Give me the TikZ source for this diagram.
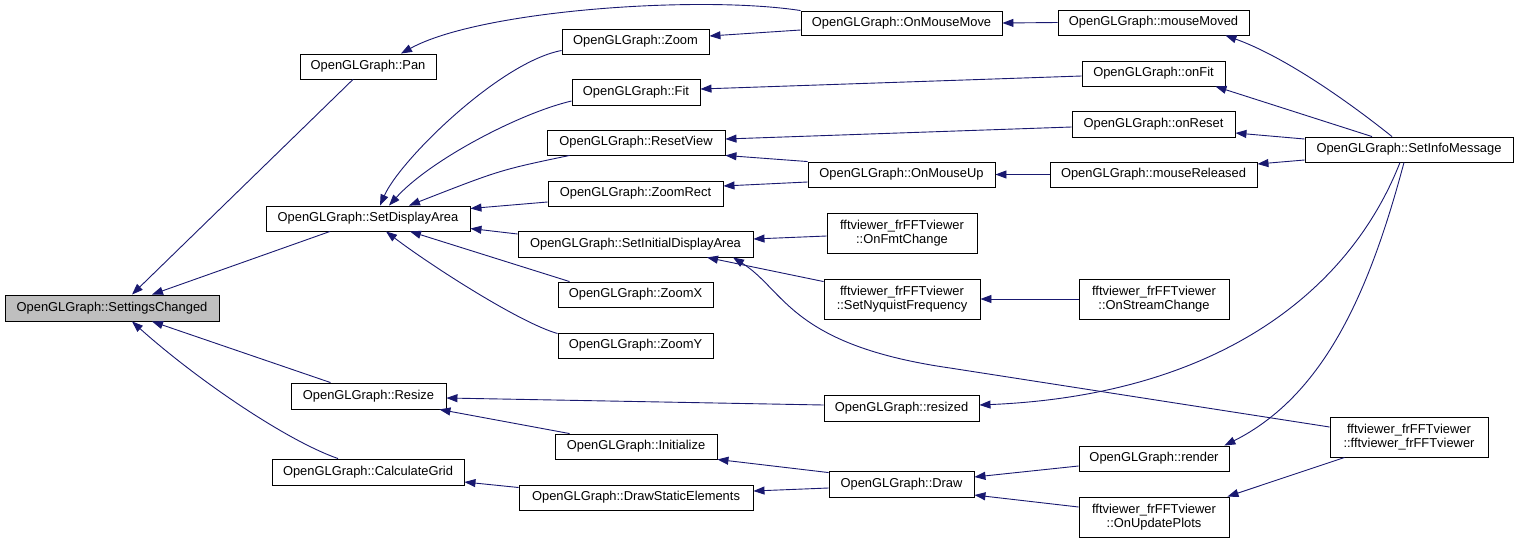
\documentclass[tikz,border=0pt]{standalone}
\usepackage{fontspec}
\setmainfont{Liberation Sans}
\usetikzlibrary{arrows.meta}
\definecolor{edgeblue}{HTML}{191970}
\definecolor{nodegray}{HTML}{BFBFBF}
\begin{document}
\begin{tikzpicture}[x=1pt,y=-1pt,
  fn/.style={draw=black,line width=0.9pt,fill=white,inner sep=0pt,minimum height=25pt,
    font=\fontsize{12.9}{13.5}\selectfont,text=black},
  fntwo/.style={fn,minimum height=40pt,align=center},
  edge/.style={draw=edgeblue,line width=0.9pt,-{Triangle[length=11pt,width=8pt]}},
]
\useasboundingbox[fill=white] (0,0) rectangle (1519,544);

% column 1
\node[fn,minimum width=214pt,minimum height=26pt,fill=nodegray] (sc) at (112,308) {OpenGLGraph::SettingsChanged};
% column 2
\node[fn,minimum width=136pt] (pan) at (368,66.5) {OpenGLGraph::Pan};
\node[fn,minimum width=204pt] (sda) at (368,218.5) {OpenGLGraph::SetDisplayArea};
\node[fn,minimum width=155pt,minimum height=26pt] (resize) at (368.5,396) {OpenGLGraph::Resize};
\node[fn,minimum width=192pt,minimum height=26pt] (cgrid) at (368,472) {OpenGLGraph::CalculateGrid};
% column 3
\node[fn,minimum width=147pt] (zoom) at (635.5,41.5) {OpenGLGraph::Zoom};
\node[fn,minimum width=128pt,minimum height=26pt] (fit) at (636,92) {OpenGLGraph::Fit};
\node[fn,minimum width=178pt] (rv) at (636,142.5) {OpenGLGraph::ResetView};
\node[fn,minimum width=175pt] (zr) at (635.5,193.5) {OpenGLGraph::ZoomRect};
\node[fn,minimum width=235pt,minimum height=26pt] (sida) at (635.5,244) {OpenGLGraph::SetInitialDisplayArea};
\node[fn,minimum width=155pt] (zx) at (635.5,294.5) {OpenGLGraph::ZoomX};
\node[fn,minimum width=155pt] (zy) at (635.5,345.5) {OpenGLGraph::ZoomY};
\node[fn,minimum width=162pt] (init) at (636,446.5) {OpenGLGraph::Initialize};
\node[fn,minimum width=234pt] (dse) at (636,497.5) {OpenGLGraph::DrawStaticElements};
% column 4
\node[fn,minimum width=201pt,minimum height=24pt] (omm) at (901.5,23) {OpenGLGraph::OnMouseMove};
\node[fn,minimum width=187pt] (omu) at (901.5,174.5) {OpenGLGraph::OnMouseUp};
\node[fntwo,minimum width=150pt] (ofc) at (902,233) {fftviewer\_frFFTviewer\\::OnFmtChange};
\node[fntwo,minimum width=156pt] (snf) at (902,299) {fftviewer\_frFFTviewer\\::SetNyquistFrequency};
\node[fn,minimum width=155pt,minimum height=26pt] (resized) at (901.5,408) {OpenGLGraph::resized};
\node[fn,minimum width=145pt,minimum height=26pt] (draw) at (901.5,484) {OpenGLGraph::Draw};
% column 5
\node[fn,minimum width=191pt] (mm) at (1153.5,22.5) {OpenGLGraph::mouseMoved};
\node[fn,minimum width=143pt] (onfit) at (1153.5,73.5) {OpenGLGraph::onFit};
\node[fn,minimum width=163pt,minimum height=26pt] (onreset) at (1153.5,124) {OpenGLGraph::onReset};
\node[fn,minimum width=207pt] (mr) at (1153.5,174.5) {OpenGLGraph::mouseReleased};
\node[fntwo,minimum width=150pt] (osc) at (1154,299) {fftviewer\_frFFTviewer\\::OnStreamChange};
\node[fn,minimum width=150pt] (render) at (1154,458.5) {OpenGLGraph::render};
\node[fntwo,minimum width=150pt] (oup) at (1154,517) {fftviewer\_frFFTviewer\\::OnUpdatePlots};
% column 6
\node[fn,minimum width=208pt] (sim) at (1409,149.5) {OpenGLGraph::SetInfoMessage};
\node[fntwo,minimum width=158pt] (ff) at (1409,437) {fftviewer\_frFFTviewer\\::fftviewer\_frFFTviewer};

% edges into SettingsChanged
\draw[edge] ([xshift=-15pt]pan.south) -- ([xshift=20pt]sc.north);
\draw[edge] ([xshift=-38pt]sda.south) -- ([xshift=40pt]sc.north);
\draw[edge] ([xshift=-38pt]resize.north) -- ([xshift=40pt]sc.south);
\draw[edge] ([xshift=-30pt]cgrid.north) .. controls (285,440) and (195,378) .. ([xshift=20pt]sc.south);
% into Pan
\draw[edge] (omm.north west) .. controls (700,-5) and (480,10) .. ([xshift=33pt]pan.north);
% into SetDisplayArea
\draw[edge] ([yshift=-9pt]zoom.west) .. controls (500,62) and (400,160) .. ([xshift=12pt]sda.north);
\draw[edge] ([yshift=-9pt]fit.west) .. controls (520,113) and (430,160) .. ([xshift=21pt]sda.north);
\draw[edge] ([xshift=23pt]rv.south west) .. controls (500,170) .. ([xshift=41pt]sda.north);
\draw[edge] ([yshift=-8.5pt]zr.west) -- ([yshift=10pt]sda.east);
\draw[edge] ([yshift=10pt]sida.west) -- ([yshift=-10pt]sda.east);
\draw[edge] ([xshift=12pt]zx.north west) -- ([xshift=42pt]sda.south);
\draw[edge] ([yshift=12pt]zy.west) .. controls (520,323) and (430,265) .. ([xshift=18pt]sda.south);
% into Resize, CalculateGrid
\draw[edge] ([yshift=3pt]resized.west) -- ([yshift=-2pt]resize.east);
\draw[edge] ([xshift=15pt]init.north west) -- ([xshift=-7pt]resize.south east);
\draw[edge] ([yshift=10pt]dse.west) -- ([yshift=-10pt]cgrid.east);
% into column 3
\draw[edge] ([yshift=-7pt]omm.west) -- ([yshift=5.5pt]zoom.east);
\draw[edge] ([yshift=-2.5pt]onfit.west) -- ([yshift=3pt]fit.east);
\draw[edge] ([yshift=-3pt]onreset.west) -- ([yshift=3.5pt]rv.east);
\draw[edge] (omu.north west) -- (rv.south east);
\draw[edge] ([yshift=-7.5pt]omu.west) -- ([yshift=7.5pt]zr.east);
\draw[edge] ([yshift=-3pt]ofc.west) -- ([yshift=5pt]sida.east);
\draw[edge] ([yshift=-3pt]snf.north west) -- ([xshift=71.5pt]sida.south);
\draw[edge] ([yshift=10pt]ff.west) -- (950,368) .. controls (790,345) and (785,290) .. ([xshift=97.5pt]sida.south);
\draw[edge] ([yshift=-2pt]draw.north west) -- (init.south east);
\draw[edge] ([yshift=-4pt]draw.west) -- ([yshift=6.5pt]dse.east);
% into column 4
\draw[edge] (mm.west) -- (omm.east);
\draw[edge] (mr.west) -- (omu.east);
\draw[edge] (osc.west) -- (snf.east);
\draw[edge] ([yshift=-7.5pt]render.west) -- ([yshift=7pt]draw.east);
\draw[edge] ([yshift=10pt]oup.west) -- ([yshift=-11pt]draw.east);
% from SetInfoMessage
\draw[edge] ([xshift=-17pt]sim.north) .. controls (1340,95) and (1280,55) .. ([xshift=-24pt]mm.south east);
\draw[edge] ([xshift=-37pt]sim.north) -- ([xshift=-10pt]onfit.south east);
\draw[edge] ([yshift=10.5pt]sim.west) -- ([yshift=-9pt]onreset.east);
\draw[edge] ([yshift=-10.5pt]sim.west) -- ([yshift=10.5pt]mr.east);
\draw[edge] ([xshift=-9pt]sim.south) .. controls (1350,290) and (1220,395) .. ([yshift=3pt]resized.east);
\draw[edge] ([xshift=-5pt]sim.south) .. controls (1370,290) and (1325,395) .. ([xshift=-5pt]render.north east);
% from fftviewer_frFFTviewer
\draw[edge] ([xshift=15pt]ff.south west) -- ([xshift=-2pt]oup.north east);
\end{tikzpicture}
\end{document}
